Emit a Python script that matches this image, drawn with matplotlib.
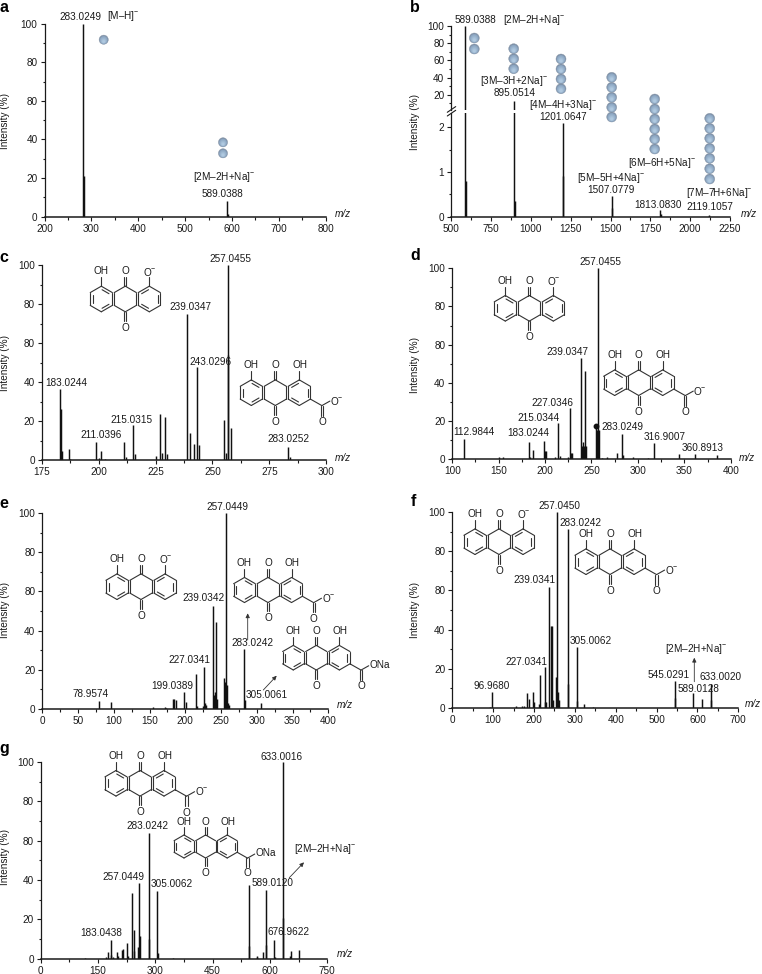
import numpy as np
import matplotlib
matplotlib.use('Agg')
import matplotlib.pyplot as plt
from matplotlib.patches import Circle

plt.rcParams['font.family'] = ['Liberation Sans', 'DejaVu Sans']
plt.rcParams['mathtext.fontset'] = 'custom'
plt.rcParams['mathtext.rm'] = 'Liberation Sans'
plt.rcParams['mathtext.it'] = 'Liberation Sans:italic'
plt.rcParams['mathtext.default'] = 'regular'

W, H = 762, 974
FS = 7.2
INK = '#1a1a1a'

# spectra, m/z and relative intensity
a_mz = [283, 284.5, 589, 590.5]
a_int = [100, 21, 8, 1.2]

b_mz = [589, 590.5, 895, 897, 1201, 1203, 1507, 1509, 1813, 1815, 2119, 2121]
b_int = [100, 0.8, 12.2, 0.35, 2.1, 0.9, 0.46, 0.2, 0.16, 0.06, 0.04, 0.02]

c_mz = [183, 183.4, 184, 187, 187.5, 199, 200, 201, 203, 211, 212, 215, 216, 225, 227, 228,
        229, 230, 239, 240, 242, 243, 244, 255, 256, 256.8, 257, 258, 283, 284]
c_int = [36.4, 26, 4.8, 5.5, 0.6, 9.4, 0.9, 4.5, 0.4, 9.4, 1.6, 17.8, 3, 1.8, 23.4, 3.8,
         21.9, 3.2, 74.9, 14, 8.3, 47.5, 7.5, 20.3, 3.5, 54, 100, 16.5, 6.7, 1.5]

d_mz = [112.98, 150, 155, 182.6, 184, 186.6, 198.8, 200, 201, 211, 214.3, 216, 225, 226.5,
        228, 229, 238.7, 240, 241, 242, 243, 244, 255, 256, 257, 258, 261, 267, 277, 282.5,
        284, 295, 311, 316.9, 344.7, 361, 385]
d_int = [10.5, 0.8, 0.8, 8.9, 0.8, 4.9, 9.3, 4, 4, 1.2, 18.9, 1.5, 1, 26.6,
         3, 3.3, 52.8, 7, 9, 7, 46, 7, 17, 15, 100, 15, 0.6, 1, 3.3, 13,
         2, 0.9, 0.3, 8.2, 2.8, 2.8, 2.3]

e_mz = [78.8, 96.5, 155, 171, 173, 182.3, 184, 186.5, 198.6, 201, 214.5, 216, 225, 226.6,
        228, 229, 238.7, 240, 241, 243, 244, 254.5, 256, 256.6, 258, 260, 261, 282.5, 284, 305.4]
e_int = [3.9, 3.6, 0.9, 0.9, 0.5, 5.1, 5.1, 4.8, 8.7, 3.7, 18, 1.5, 1.5, 21.4,
         3, 2, 52.7, 7, 8.5, 44.4, 5, 16, 14, 100, 12, 3, 2, 30.6, 4.5, 3]

f_mz = [93, 96.3, 155, 170, 175, 182.8, 187, 198, 201, 211, 213.8, 226.8, 228, 230, 237.4,
        241, 243, 246, 253.7, 256.2, 258, 260, 282.3, 284, 304.3, 306, 322, 345, 545, 546,
        589, 611, 632.3, 634]
f_int = [0.5, 8.3, 1, 0.8, 0.8, 7.6, 4.4, 8, 3, 2, 16.8, 20.9, 3, 3, 61.6,
         42, 42, 4, 15.6, 100, 8, 4, 91.3, 12, 31, 3.5, 1.8, 0.4, 13.6, 5,
         7.5, 4.4, 12.2, 4]

g_mz = [115, 172, 177, 183, 185, 190, 199.7, 201, 212, 215, 226.7, 228, 239, 243, 244, 254.6,
        257.3, 260.7, 282.6, 284, 304.4, 306, 345, 544.2, 546, 565, 567, 581, 588.7, 590,
        610.5, 612, 633, 634, 653, 654, 675.9]
g_int = [0.2, 1, 3.5, 9.7, 2, 1, 3.5, 1.5, 4.5, 4.8, 7.8, 1.5, 33.2, 14.6, 4, 6,
         38.3, 11.5, 63.9, 10, 34.2, 3, 0.6, 37.3, 6.5, 1, 1.4, 3.6, 34.7, 7,
         9.3, 1, 100, 20.5, 1.5, 4.1, 4.2]

y_ticks = [0, 20, 40, 60, 80, 100]
# the figure prints 80 twice on the intensity axes
y_tick_labels = ['0', '20', '40', '80', '80', '100']


def make_axes(left, right, top, bottom):
    return fig.add_axes([left / W, 1 - bottom / H, (right - left) / W, (bottom - top) / H])


def style_axes(ax):
    for side in ['top', 'right']:
        ax.spines[side].set_visible(False)
    ax.spines['left'].set_linewidth(0.9)
    ax.spines['bottom'].set_linewidth(1.1)
    ax.spines['left'].set_color(INK)
    ax.spines['bottom'].set_color(INK)
    ax.tick_params(which='major', length=3, width=0.8, labelsize=FS, pad=2, colors=INK)
    ax.tick_params(which='minor', length=1.8, width=0.8, colors=INK)
    ax.patch.set_alpha(0)


def spectrum(box, mz, intensity, xlim, xmajor):
    ax = make_axes(*box)
    ax.vlines(mz, 0, intensity, color='#111111', lw=1.05)
    ax.set_xlim(*xlim)
    ax.set_ylim(0, 100)
    ax.set_xticks(np.arange(xlim[0], xlim[1] + 1, xmajor))
    ax.set_xticks(np.arange(xlim[0], xlim[1] + 1, xmajor / 2), minor=True)
    ax.set_yticks(y_ticks)
    ax.set_yticklabels(y_tick_labels)
    ax.set_yticks(np.arange(0, 101, 10), minor=True)
    style_axes(ax)
    return ax


fig = plt.figure(figsize=(W / 100, H / 100), dpi=100)

spectrum((44.5, 325.7, 23.7, 216.7), a_mz, a_int, (200, 800), 100)
spectrum((41.7, 326.3, 265, 460), c_mz, c_int, (175, 300), 25)
ax_d = spectrum((452.3, 730.7, 268.3, 459), d_mz, d_int, (100, 400), 50)
spectrum((42.3, 328.3, 513, 709), e_mz, e_int, (0, 400), 50)
spectrum((452.3, 738.3, 512, 708), f_mz, f_int, (0, 700), 100)
spectrum((40.7, 327.3, 762, 958.7), g_mz, g_int, (0, 750), 150)
ax_d.plot([255], [17.5], 'o', ms=3.2, color='#111111', clip_on=False)

# panel b has a broken intensity axis
b_low = make_axes(451.3, 730, 113, 216.7)
b_low.vlines(b_mz, 0, b_int, color='#111111', lw=1.05)
b_low.set_xlim(500, 2250)
b_low.set_ylim(0, 2.315)
b_low.set_xticks(np.arange(500, 2251, 250))
b_low.set_xticks(np.arange(500, 2251, 125), minor=True)
b_low.set_yticks([0, 1, 2])
b_low.set_yticks([0.5, 1.5], minor=True)
style_axes(b_low)

b_up = make_axes(451.3, 730, 26, 110)
b_up.vlines(b_mz, 0, b_int, color='#111111', lw=1.05)
b_up.set_xlim(500, 2250)
b_up.set_ylim(2.3, 100)
b_up.set_xticks([])
b_up.set_yticks([20, 40, 60, 80, 100])
b_up.set_yticks(np.arange(10, 101, 10), minor=True)
style_axes(b_up)
b_up.spines['bottom'].set_visible(False)

# overlay in pixels for labels, structures and spheres
ov = fig.add_axes([0, 0, 1, 1])
ov.set_xlim(0, W)
ov.set_ylim(H, 0)
ov.axis('off')
ov.patch.set_alpha(0)


def label(x, y, s, **kw):
    ov.text(x, y, s, ha='center', va='center', fontsize=FS, color=INK, **kw)


def sphere(x, y, r=4.6):
    ov.add_patch(Circle((x, y), r, fc='#7d8fa6', ec='#8a98a8', lw=0.3))
    for k in range(5):
        f = 1 - (k + 1) * 0.14
        shade = np.array([0.55, 0.65, 0.76]) + k * np.array([0.035, 0.035, 0.03])
        ov.add_patch(Circle((x, y + (1 - f) * r * 0.55), r * f, fc=shade, ec='none'))


def bond(p, q, color='#333333', lw=0.8):
    ov.plot([p[0], q[0]], [p[1], q[1]], color=color, lw=lw, solid_capstyle='round')


def ring(cx, cy, s):
    ang = np.deg2rad([90, 30, -30, -90, -150, 150])
    return np.c_[cx + s * np.cos(ang), cy - s * np.sin(ang)]


def inner(v, c, i, j, k=0.76):
    p = c + (v[i] - c) * k
    q = c + (v[j] - c) * k
    m = (p + q) / 2
    bond(m + (p - m) * 0.82, m + (q - m) * 0.82)


def quinone(cx, cy, kind='phenolate', k=1.0):
    a = 12 * k
    rings = [(cx - 2 * a, cy), (cx, cy), (cx + 2 * a, cy)]
    verts = [ring(r[0], r[1], 12.8 * k) for r in rings]
    for v in verts:
        for i in range(6):
            bond(v[i], v[(i + 1) % 6])
    lc = np.array(rings[0])
    rc = np.array(rings[2])
    for i, j in [(4, 5), (2, 3), (0, 1)]:
        inner(verts[0], lc, i, j)
    for i, j in [(1, 2), (3, 4), (5, 0)]:
        inner(verts[2], rc, i, j)
    # ketones in the middle ring
    mid = verts[1]
    for dx in [-1.1, 1.1]:
        bond((cx + dx, mid[0][1]), (cx + dx, mid[0][1] - 9 * k))
        bond((cx + dx, mid[3][1]), (cx + dx, mid[3][1] + 9 * k))
    label(cx, cy - 27.5 * k, 'O')
    label(cx, cy + 29 * k, 'O')
    # phenol arms on the outer rings
    bond(verts[0][0], (verts[0][0][0], verts[0][0][1] - 9 * k))
    bond(verts[2][0], (verts[2][0][0], verts[2][0][1] - 9 * k))
    label(cx - 24 * k, cy - 27.5 * k, 'OH')
    if kind == 'phenolate':
        label(cx + 25 * k, cy - 27.5 * k, 'O$^{-}$')
        return
    label(cx + 24.5 * k, cy - 27.5 * k, 'OH')
    # carboxylate on the right ring
    start = verts[2][2]
    c = start + np.array([11.5, 6.5]) * k
    bond(start, c)
    bond((c[0] - 1.1, c[1]), (c[0] - 1.1, c[1] + 10 * k))
    bond((c[0] + 1.1, c[1]), (c[0] + 1.1, c[1] + 10 * k))
    bond(c, c + np.array([8, -4.5]) * k)
    label(c[0], c[1] + 16.5 * k, 'O')
    if kind == 'carboxylate':
        label(c[0] + 15 * k, c[1] - 5 * k, 'O$^{-}$')
    else:
        ov.text(c[0] + 8.5 * k, c[1] - 5.5 * k, 'ONa', ha='left', va='center', fontsize=FS, color=INK)


def arrow(x0, y0, x1, y1):
    ov.annotate('', xy=(x1, y1), xytext=(x0, y0),
                arrowprops=dict(arrowstyle='-|>,head_width=0.12,head_length=0.25',
                                lw=0.6, color='#333333', shrinkA=0, shrinkB=0))


# panel letters
for x, y, s in [(4, 8, 'a'), (415, 7, 'b'), (4, 257, 'c'), (415, 256, 'd'),
                (4, 503, 'e'), (413, 502, 'f'), (4, 749, 'g')]:
    ov.text(x, y, s, ha='center', va='center', fontsize=11.5, fontweight='bold', color='black')

# axis captions
for x, y in [(5, 121), (415, 122), (5, 363), (415, 365), (5, 610), (415, 610), (5, 857)]:
    ov.text(x, y, 'Intensity (%)', rotation=90, ha='center', va='center', fontsize=FS, color=INK)
for x, y in [(343, 214), (749, 214), (343, 458), (747, 458), (345, 705), (753, 704), (345, 954)]:
    ov.text(x, y, 'm/z', style='italic', ha='center', va='center', fontsize=FS, color=INK)

# peak annotations
annotations = [
    (80.3, 16.7, '283.0249'), (123.7, 15.7, '[M–H]$^{-}$'),
    (224, 176.7, '[2M–2H+Na]$^{-}$'), (222.3, 194.3, '589.0388'),
    (475.3, 20, '589.0388'), (534.3, 20, '[2M–2H+Na]$^{-}$'),
    (514.3, 81.5, '[3M–3H+2Na]$^{-}$'), (514.3, 93.3, '895.0514'),
    (563.3, 105, '[4M–4H+3Na]$^{-}$'), (563.3, 116.7, '1201.0647'),
    (611, 177.7, '[5M–5H+4Na]$^{-}$'), (611, 190, '1507.0779'),
    (658.3, 205, '1813.0830'), (662, 163.3, '[6M–6H+5Na]$^{-}$'),
    (719, 193, '[7M–7H+6Na]$^{-}$'), (709.7, 207.3, '2119.1057'),
    (230.3, 258.7, '257.0455'), (190.7, 307, '239.0347'), (210, 361.7, '243.0296'),
    (66.7, 382.7, '183.0244'), (131.3, 420, '215.0315'), (101.3, 435, '211.0396'),
    (288.7, 439.3, '283.0252'),
    (600.3, 262.3, '257.0455'), (567.7, 351.7, '239.0347'), (552.7, 403.3, '227.0346'),
    (538.7, 417.7, '215.0344'), (528.7, 433, '183.0244'), (474, 431.7, '112.9844'),
    (622.7, 426.7, '283.0249'), (664.3, 437.3, '316.9007'), (702.7, 447.7, '360.8913'),
    (227.7, 507.3, '257.0449'), (203.3, 598, '239.0342'), (252.7, 642.7, '283.0242'),
    (189.3, 660.3, '227.0341'), (172.7, 685.7, '199.0389'), (90.7, 693.7, '78.9574'),
    (266.7, 695.3, '305.0061'),
    (559.3, 506, '257.0450'), (580.7, 523, '283.0242'), (535, 580, '239.0341'),
    (590.3, 640.7, '305.0062'), (526.3, 661.7, '227.0341'), (492, 685.7, '96.9680'),
    (669, 675, '545.0291'), (721, 676.7, '633.0020'), (698.7, 689.3, '589.0128'),
    (695.7, 649.3, '[2M–2H+Na]$^{-}$'),
    (282, 756.7, '633.0016'), (147.7, 826, '283.0242'), (123.7, 876.7, '257.0449'),
    (171.7, 884.3, '305.0062'), (272.7, 883.3, '589.0120'), (101.7, 933.3, '183.0438'),
    (288.3, 932, '676.9622'), (324.7, 849.3, '[2M–2H+Na]$^{-}$'),
]
for x, y, s in annotations:
    label(x, y, s)

# oligomer spheres
for x, y in [(103.7, 39.7), (223, 142.3), (223, 153.3)]:
    sphere(x, y)
sphere_columns = [
    (474.3, [38, 49]),
    (513.7, [48.7, 58.7, 68.7]),
    (561, [59, 69, 79, 88.7]),
    (611.7, [77.3, 87.3, 97.3, 107.3, 117]),
    (654.7, [99, 109, 119, 129, 139, 149]),
    (709.7, [118.3, 128.3, 138.3, 148.3, 158.3, 168.7, 179]),
]
for x, ys in sphere_columns:
    for y in ys:
        sphere(x, y, r=5)

# axis break marks
bond((447.3, 112.3), (455.7, 106.6), color=INK, lw=0.8)
bond((447.3, 116), (455.7, 110.3), color=INK, lw=0.8)

# structures
for cx, cy, kind, k in [(125.3, 299, 'phenolate', 1), (275.3, 392.7, 'carboxylate', 1),
                        (529.3, 308.3, 'phenolate', 1), (638.7, 382.7, 'carboxylate', 1),
                        (141, 586.7, 'phenolate', 1), (268, 590, 'carboxylate', 0.98),
                        (316.3, 657.7, 'sodium', 0.96),
                        (499, 541.7, 'phenolate', 1), (610, 561.7, 'carboxylate', 1),
                        (140, 783.3, 'carboxylate', 1), (205.6, 846.5, 'sodium', 0.9)]:
    quinone(cx, cy, kind, k)

arrow(247.7, 640, 247.7, 613.3)
arrow(263.3, 690, 276.7, 675.7)
arrow(694.3, 681.7, 694.3, 657.7)
arrow(289.3, 877.7, 304, 862.3)

fig.savefig('out.png', dpi=100)
